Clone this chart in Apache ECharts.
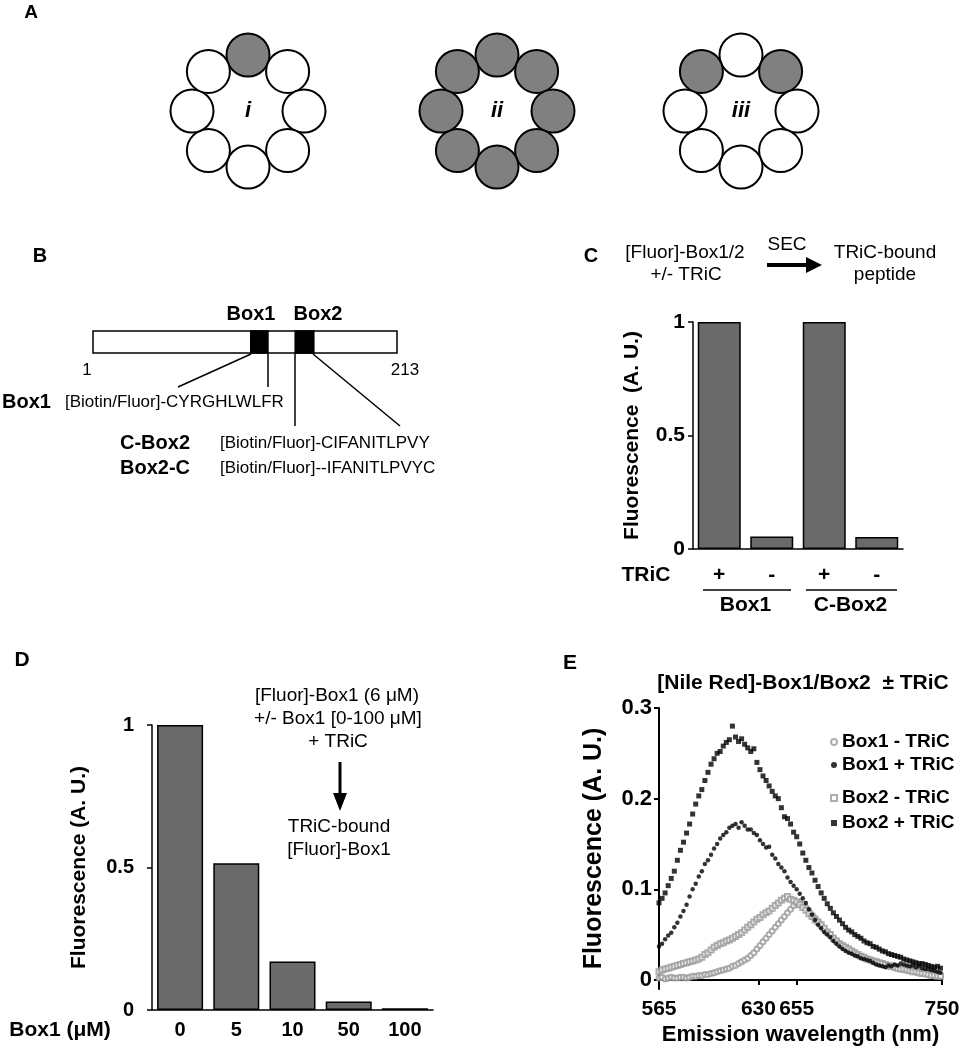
<!DOCTYPE html>
<html><head><meta charset="utf-8">
<script src="https://cdn.jsdelivr.net/npm/echarts@6/dist/echarts.min.js"></script>
<style>html,body{margin:0;padding:0;background:#fff}#c{width:963px;height:1050px}</style>
</head><body><div id="c"></div>
<script>
const FONT = '"Liberation Sans", Arial, Helvetica, sans-serif';

// ---------- Panel A: subunit rings ----------
const subunitPositions = ['top', 'NE', 'E', 'SE', 'S', 'SW', 'W', 'NW'];
const ringI   = [1, 0, 0, 0, 0, 0, 0, 0];
const ringII  = [1, 1, 1, 1, 1, 1, 1, 1];
const ringIII = [0, 1, 0, 0, 0, 0, 0, 1];
const ringLabels = ['i', 'ii', 'iii'];

// ---------- Panel B: VHL domain map (residues) ----------
const vhlSpan = [1, 213];
const box1Residues = [111, 123];
const box2Residues = [142, 155];

// ---------- Panel C ----------
const cCategories = ['+', '-', '+', '-'];
const cGroups = ['Box1', 'C-Box2'];
const cValues = [1, 0.055, 1, 0.053];

// ---------- Panel D ----------
const dCategories = ['0', '5', '10', '50', '100'];
const dValues = [1, 0.515, 0.17, 0.03, 0.006];

// ---------- Panel E ----------
const wavelength = [
  565,567,569,571,573,575,577,579,581,583,
  585,587,589,591,593,595,597,599,601,603,
  605,607,609,611,613,615,617,619,621,623,
  625,627,629,631,633,635,637,639,641,643,
  645,647,649,651,653,655,657,659,661,663,
  665,667,669,671,673,675,677,679,681,683,
  685,687,689,691,693,695,697,699,701,703,
  705,707,709,711,713,715,717,719,721,723,
  725,727,729,731,733,735,737,739,741,743,
  745,747,749
];
const box1Minus = [
  0.002,0.003,0.001,0.002,0.003,0.002,0.002,0.003,0.003,0.002,
  0.003,0.004,0.004,0.005,0.005,0.006,0.006,0.007,0.008,0.009,
  0.010,0.011,0.012,0.013,0.015,0.016,0.018,0.020,0.022,0.024,
  0.027,0.030,0.034,0.038,0.042,0.046,0.050,0.054,0.058,0.062,
  0.066,0.070,0.074,0.078,0.082,0.085,0.086,0.084,0.080,0.076,
  0.072,0.068,0.064,0.060,0.056,0.052,0.049,0.046,0.043,0.040,
  0.037,0.035,0.033,0.031,0.029,0.027,0.026,0.024,0.023,0.022,
  0.020,0.019,0.018,0.017,0.016,0.015,0.015,0.014,0.013,0.012,
  0.012,0.011,0.011,0.010,0.009,0.009,0.008,0.008,0.007,0.007,
  0.006,0.006,0.005
];
const box1Plus = [
  0.037,0.040,0.045,0.049,0.052,0.058,0.063,0.070,0.076,0.083,
  0.092,0.100,0.106,0.114,0.120,0.128,0.132,0.138,0.145,0.150,
  0.156,0.160,0.163,0.168,0.170,0.172,0.168,0.174,0.170,0.166,
  0.166,0.162,0.160,0.154,0.150,0.146,0.147,0.138,0.134,0.128,
  0.124,0.120,0.113,0.108,0.104,0.100,0.095,0.090,0.085,0.078,
  0.072,0.066,0.061,0.057,0.053,0.050,0.047,0.043,0.040,0.037,
  0.034,0.032,0.030,0.029,0.027,0.026,0.024,0.023,0.022,0.021,
  0.019,0.017,0.016,0.015,0.014,0.016,0.015,0.017,0.016,0.018,
  0.017,0.016,0.015,0.016,0.014,0.015,0.013,0.012,0.012,0.011,
  0.010,0.009,0.008
];
const box2Minus = [
  0.009,0.011,0.012,0.013,0.014,0.015,0.016,0.017,0.018,0.019,
  0.020,0.021,0.022,0.023,0.025,0.028,0.030,0.033,0.036,0.038,
  0.040,0.041,0.043,0.044,0.046,0.048,0.050,0.052,0.055,0.058,
  0.061,0.064,0.067,0.069,0.072,0.074,0.076,0.079,0.082,0.085,
  0.088,0.090,0.092,0.089,0.088,0.086,0.083,0.080,0.077,0.073,
  0.070,0.066,0.064,0.061,0.057,0.053,0.050,0.046,0.043,0.040,
  0.038,0.036,0.034,0.032,0.030,0.028,0.026,0.025,0.023,0.022,
  0.021,0.020,0.019,0.018,0.017,0.016,0.015,0.014,0.013,0.012,
  0.012,0.011,0.010,0.009,0.009,0.008,0.007,0.007,0.006,0.005,
  0.005,0.004,0.004
];
const box2Plus = [
  0.085,0.090,0.096,0.104,0.112,0.120,0.132,0.143,0.152,0.162,
  0.172,0.183,0.194,0.203,0.210,0.220,0.229,0.238,0.244,0.250,
  0.252,0.258,0.262,0.265,0.280,0.268,0.263,0.266,0.260,0.256,
  0.252,0.255,0.240,0.232,0.225,0.220,0.214,0.208,0.203,0.200,
  0.190,0.180,0.178,0.172,0.163,0.158,0.150,0.140,0.132,0.124,
  0.118,0.110,0.103,0.096,0.090,0.084,0.079,0.074,0.070,0.066,
  0.062,0.058,0.055,0.053,0.050,0.048,0.046,0.043,0.041,0.040,
  0.037,0.036,0.034,0.032,0.031,0.029,0.028,0.027,0.026,0.025,
  0.023,0.022,0.021,0.020,0.019,0.018,0.018,0.017,0.016,0.015,
  0.014,0.015,0.013
];
const eXTicks = [565, 630, 655, 750];
const eYTicks = [0, 0.1, 0.2, 0.3];

// ================= build =================
const BAR = '#6a6a6a';
const SHADE = '#808080';
const bold = (s) => ({ fontFamily: FONT, fontWeight: 'bold', fontSize: s, color: '#000' });

function txt(text, x, y, size, opt) {
  opt = opt || {};
  return {
    type: 'text', x: x, y: y, silent: true,
    style: {
      text: text, fill: '#000',
      font: (opt.italic ? 'italic ' : '') + (opt.bold ? 'bold ' : '') + size + 'px ' + FONT,
      align: opt.align || 'center', verticalAlign: 'middle',
      textAlign: opt.align || 'center', textVerticalAlign: 'middle'
    }
  };
}
function seg(x1, y1, x2, y2, w) {
  return { type: 'line', silent: true, shape: { x1, y1, x2, y2 }, style: { stroke: '#000', lineWidth: w || 1.5 } };
}
function tri(points) {
  return { type: 'polygon', silent: true, shape: { points }, style: { fill: '#000' } };
}

const rings = [ringI, ringII, ringIII];
const ringCenters = [[248, 111], [497, 111], [741, 111]];

const hiddenAxis = { show: false };

const option = {
  animation: false,
  backgroundColor: '#fff',
  textStyle: { fontFamily: FONT },
  polar: ringCenters.map(c => ({ center: c, radius: 56 })),
  angleAxis: ringCenters.map((c, i) => ({
    polarIndex: i, type: 'category', data: subunitPositions, startAngle: 112.5,
    axisLine: hiddenAxis, axisTick: hiddenAxis, axisLabel: hiddenAxis, splitLine: hiddenAxis
  })),
  radiusAxis: ringCenters.map((c, i) => ({
    polarIndex: i, type: 'value', min: 0, max: 1,
    axisLine: hiddenAxis, axisTick: hiddenAxis, axisLabel: hiddenAxis, splitLine: hiddenAxis
  })),
  grid: [
    { left: 93, top: 331, width: 304, height: 22 },       // B
    { left: 693, top: 322, width: 210, height: 227 },     // C
    { left: 152, top: 725, width: 281, height: 285 },     // D
    { left: 659, top: 708, width: 283, height: 281 }      // E
  ],
  xAxis: [
    { gridIndex: 0, type: 'value', min: vhlSpan[0], max: vhlSpan[1], show: false },
    { gridIndex: 1, type: 'category', data: cCategories,
      axisLine: { lineStyle: { color: '#000', width: 1.5 } }, axisTick: { show: false },
      axisLabel: Object.assign(bold(21), { margin: 16 }) },
    { gridIndex: 2, type: 'category', data: dCategories,
      axisLine: { lineStyle: { color: '#000', width: 1.5 } }, axisTick: { show: false },
      axisLabel: Object.assign(bold(20), { margin: 10 }) },
    { gridIndex: 3, type: 'value', min: 565, max: 750,
      axisLine: { lineStyle: { color: '#000', width: 2 } },
      axisTick: { customValues: eXTicks, length: 5, lineStyle: { color: '#000', width: 2 } },
      axisLabel: Object.assign(bold(21), { margin: 10, customValues: eXTicks }),
      splitLine: { show: false },
      name: 'Emission wavelength (nm)', nameLocation: 'middle', nameGap: 35,
      nameTextStyle: bold(22) },
    { gridIndex: 1, type: 'category', data: cGroups, position: 'bottom', offset: 40,
      axisLine: { show: false }, axisTick: { show: false },
      axisLabel: Object.assign(bold(21), { margin: 6 }) }
  ],
  yAxis: [
    { gridIndex: 0, type: 'value', min: 0, max: 1, show: false },
    { gridIndex: 1, type: 'value', min: 0, max: 1, interval: 0.5,
      axisLine: { show: true, lineStyle: { color: '#000', width: 1.5 } },
      axisTick: { show: true, length: 5, lineStyle: { color: '#000', width: 1.5 } },
      axisLabel: Object.assign(bold(21), { margin: 8 }), splitLine: { show: false },
      name: 'Fluorescence  (A. U.)', nameLocation: 'middle', nameGap: 50, nameTextStyle: bold(21) },
    { gridIndex: 2, type: 'value', min: 0, max: 1, interval: 0.5,
      axisLine: { show: true, lineStyle: { color: '#000', width: 1.5 } },
      axisTick: { show: true, length: 5, lineStyle: { color: '#000', width: 1.5 } },
      axisLabel: Object.assign(bold(20), { margin: 18 }), splitLine: { show: false },
      name: 'Fluorescence (A. U.)', nameLocation: 'middle', nameGap: 62, nameTextStyle: bold(21) },
    { gridIndex: 3, type: 'value', min: -0.01, max: 0.3,
      axisLine: { show: true, lineStyle: { color: '#000', width: 2 } },
      axisTick: { show: true, customValues: eYTicks, length: 5, lineStyle: { color: '#000', width: 2 } },
      axisLabel: Object.assign(bold(22), { margin: 7, customValues: eYTicks,
        formatter: v => (v === 0 ? '0' : v.toFixed(1)) }),
      splitLine: { show: false },
      name: 'Fluorescence (A. U.)', nameLocation: 'middle', nameGap: 52, nameTextStyle: bold(25) }
  ],
  legend: [
    { left: 830, top: 731, orient: 'vertical', padding: 0, itemGap: 1, itemWidth: 6, itemHeight: 6,
      selectedMode: false, textStyle: Object.assign(bold(19), { lineHeight: 22 }),
      data: [{ name: 'Box1 - TRiC', icon: 'emptyCircle' }, { name: 'Box1 + TRiC', icon: 'circle' }] },
    { left: 830, top: 787, orient: 'vertical', padding: 0, itemGap: 3, itemWidth: 6, itemHeight: 6,
      selectedMode: false, textStyle: Object.assign(bold(19), { lineHeight: 22 }),
      data: [{ name: 'Box2 - TRiC', icon: 'emptyRect' }, { name: 'Box2 + TRiC', icon: 'rect' }] }
  ],
  series: [],
  graphic: { elements: [] }
};

// Panel A rings
rings.forEach((ring, i) => {
  option.series.push({
    type: 'scatter', coordinateSystem: 'polar', polarIndex: i, silent: true,
    symbol: 'circle', symbolSize: 43,
    data: ring.map((f, k) => [1, k, f]),
    itemStyle: {
      color: p => (p.value[2] ? SHADE : '#fff'),
      borderColor: '#000', borderWidth: 2, opacity: 1
    }
  });
});

// Panel B domain map
option.series.push({
  type: 'custom', xAxisIndex: 0, yAxisIndex: 0, silent: true, clip: false,
  data: [[vhlSpan[0], vhlSpan[1], 0], [box1Residues[0], box1Residues[1], 1], [box2Residues[0], box2Residues[1], 1]],
  renderItem: (params, api) => {
    const p1 = api.coord([api.value(0), 1]);
    const p2 = api.coord([api.value(1), 0]);
    return {
      type: 'rect',
      shape: { x: p1[0], y: p1[1], width: p2[0] - p1[0], height: p2[1] - p1[1] },
      style: { fill: api.value(2) ? '#000' : '#fff', stroke: '#000', lineWidth: 1.5 }
    };
  }
});

// Panel C bars
option.series.push({
  type: 'bar', xAxisIndex: 1, yAxisIndex: 1, data: cValues, barWidth: 43, silent: true,
  itemStyle: { color: BAR, borderColor: '#000', borderWidth: 1.5 }
});
// Panel D bars
option.series.push({
  type: 'bar', xAxisIndex: 2, yAxisIndex: 2, data: dValues, barWidth: 46, silent: true,
  itemStyle: { color: BAR, borderColor: '#000', borderWidth: 1.5 }
});
// Panel E scatter
const pairs = arr => wavelength.map((w, i) => [w, arr[i]]);
option.series.push(
  { name: 'Box1 - TRiC', type: 'scatter', xAxisIndex: 3, yAxisIndex: 3, data: pairs(box1Minus), silent: true,
    symbol: 'emptyCircle', symbolSize: 5, itemStyle: { color: '#9a9a9a', borderWidth: 1 } },
  { name: 'Box2 - TRiC', type: 'scatter', xAxisIndex: 3, yAxisIndex: 3, data: pairs(box2Minus), silent: true,
    symbol: 'emptyRect', symbolSize: 5, itemStyle: { color: '#9a9a9a', borderWidth: 1 } },
  { name: 'Box1 + TRiC', type: 'scatter', xAxisIndex: 3, yAxisIndex: 3, data: pairs(box1Plus), silent: true,
    symbol: 'circle', symbolSize: 4.5, itemStyle: { color: '#000' } },
  { name: 'Box2 + TRiC', type: 'scatter', xAxisIndex: 3, yAxisIndex: 3, data: pairs(box2Plus), silent: true,
    symbol: 'rect', symbolSize: 5, itemStyle: { color: '#000' } }
);

// Annotations
const g = option.graphic.elements;
// panel letters
g.push(txt('A', 31, 13, 19, { bold: true }));
g.push(txt('B', 40, 256, 20, { bold: true }));
g.push(txt('C', 591, 256, 20, { bold: true }));
g.push(txt('D', 22, 660, 21, { bold: true }));
g.push(txt('E', 570, 663, 21, { bold: true }));
// ring labels
ringCenters.forEach((c, i) => g.push(txt(ringLabels[i], c[0], c[1], 22, { bold: true, italic: true })));
// panel B
g.push(txt('Box1', 251, 314, 20, { bold: true }));
g.push(txt('Box2', 318, 314, 20, { bold: true }));
g.push(txt('VHL', 160, 343, 20, { bold: true }));
g.push(txt('1', 87, 370, 17));
g.push(txt('213', 405, 370, 17));
g.push(txt('Box1', 2, 402, 20, { bold: true, align: 'left' }));
g.push(txt('[Biotin/Fluor]-CYRGHLWLFR', 65, 402, 17, { align: 'left' }));
g.push(txt('C-Box2', 120, 443, 20, { bold: true, align: 'left' }));
g.push(txt('[Biotin/Fluor]-CIFANITLPVY', 220, 443, 17, { align: 'left' }));
g.push(txt('Box2-C', 120, 468, 20, { bold: true, align: 'left' }));
g.push(txt('[Biotin/Fluor]--IFANITLPVYC', 220, 468, 17, { align: 'left' }));
g.push(seg(251, 354, 178, 387));
g.push(seg(268, 354, 268, 387));
g.push(seg(295, 354, 295, 426));
g.push(seg(313, 354, 400, 426));
// panel C header
g.push(txt('[Fluor]-Box1/2', 685, 253, 19));
g.push(txt('+/- TRiC', 686, 275, 19));
g.push(txt('SEC', 787, 245, 19));
g.push(seg(767, 265, 810, 265, 4));
g.push(tri([[806, 257], [822, 265], [806, 273]]));
g.push(txt('TRiC-bound', 885, 253, 19));
g.push(txt('peptide', 885, 275, 19));
g.push(txt('TRiC', 646, 575, 21, { bold: true }));
g.push(seg(703, 590, 791, 590, 1.5));
g.push(seg(806, 590, 897, 590, 1.5));
// panel D annotation
g.push(txt('[Fluor]-Box1 (6 \u03bcM)', 337, 696, 19));
g.push(txt('+/- Box1 [0-100 \u03bcM]', 338, 719, 19));
g.push(txt('+ TRiC', 338, 742, 19));
g.push(seg(340, 762, 340, 798, 3));
g.push(tri([[333, 793], [340, 811], [347, 793]]));
g.push(txt('TRiC-bound', 339, 827, 19));
g.push(txt('[Fluor]-Box1', 339, 850, 19));
g.push(txt('Box1 (\u03bcM)', 60, 1030, 21, { bold: true }));
// panel E title
g.push(txt('[Nile Red]-Box1/Box2  \u00b1 TRiC', 803, 683, 21, { bold: true }));

const chart = echarts.init(document.getElementById('c'), null, { renderer: 'canvas' });
chart.setOption(option);
</script>
</body></html>
